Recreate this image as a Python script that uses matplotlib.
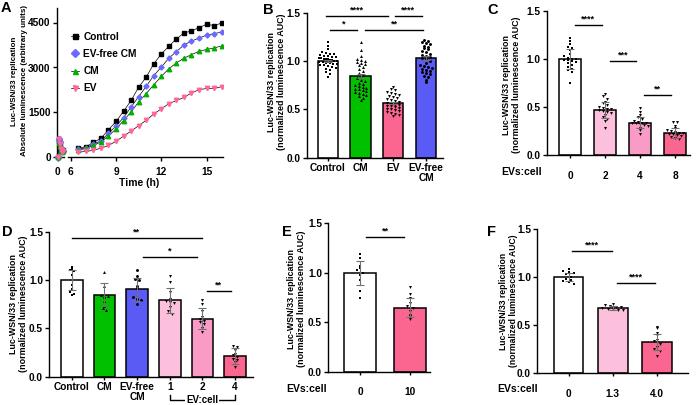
import numpy as np
import matplotlib
matplotlib.use("Agg")
import matplotlib.pyplot as plt
from matplotlib.lines import Line2D
import matplotlib.transforms as mtransforms

plt.rcParams['font.family'] = ['Liberation Sans', 'DejaVu Sans']
plt.rcParams['font.weight'] = 'bold'
plt.rcParams['axes.labelweight'] = 'bold'
plt.rcParams['axes.linewidth'] = 1.0
plt.rcParams['xtick.major.width'] = 1.0
plt.rcParams['ytick.major.width'] = 1.0
plt.rcParams['xtick.major.size'] = 3
plt.rcParams['ytick.major.size'] = 3
plt.rcParams['xtick.labelsize'] = 7.3
plt.rcParams['ytick.labelsize'] = 7.3

W, H = 698, 405

# ---- panel A: time course (absolute luminescence) ----
time_early = [0.0, 0.08, 0.17, 0.25, 0.33, 0.42]
time_main = [6.5, 7.0, 7.5, 8.0, 8.5, 9.0, 9.5, 10.0, 10.5, 11.0,
             11.5, 12.0, 12.5, 13.0, 13.5, 14.0, 14.5, 15.0, 15.5, 16.0]
control_early = [0, 550, 420, 260, 220, 260]
evfree_early = [0, 600, 500, 300, 200, 230]
cm_early = [0, 480, 380, 230, 180, 220]
ev_early = [0, 620, 450, 280, 170, 200]
control_lum = [300, 360, 500, 640, 920, 1200, 1540, 1900, 2340, 2680,
               3120, 3450, 3710, 3950, 4150, 4220, 4330, 4440, 4400, 4480]
evfree_lum = [270, 330, 440, 560, 800, 1050, 1330, 1680, 2030, 2370,
              2730, 3010, 3310, 3530, 3750, 3880, 3980, 4080, 4130, 4180]
cm_lum = [250, 300, 400, 520, 720, 950, 1230, 1520, 1850, 2130,
          2420, 2700, 2960, 3150, 3310, 3430, 3540, 3600, 3650, 3720]
ev_lum = [180, 200, 240, 310, 400, 540, 710, 880, 1060, 1240,
          1450, 1620, 1790, 1900, 2000, 2150, 2260, 2300, 2300, 2360]

# ---- panel B ----
b_labels = ['Control', 'CM', 'EV', 'EV-free\nCM']
b_means = [1.0, 0.845, 0.565, 1.035]
b_sem = [0.012, 0.025, 0.012, 0.02]
b_control = [1.20, 1.16, 1.12, 1.09, 1.08, 1.07, 1.07, 1.06, 1.05, 1.05, 1.04, 1.04,
             1.03, 1.03, 1.02, 1.02, 1.02, 1.01, 1.01, 1.00, 1.00, 0.99, 0.99, 0.98,
             0.98, 0.97, 0.97, 0.96, 0.96, 0.95, 0.94, 0.93, 0.92, 0.91, 0.89, 0.87, 0.83]
b_cm = [1.20, 1.11, 1.05, 1.02, 1.01, 1.00, 0.99, 0.98, 0.97, 0.96, 0.94, 0.92,
        0.90, 0.88, 0.86, 0.84, 0.82, 0.80, 0.79, 0.77, 0.76, 0.75, 0.74, 0.73,
        0.72, 0.71, 0.71, 0.70, 0.69, 0.68, 0.67, 0.66, 0.65, 0.64, 0.62, 0.60]
b_ev = [0.73, 0.71, 0.70, 0.68, 0.67, 0.66, 0.65, 0.64, 0.63, 0.62, 0.61, 0.60,
        0.59, 0.58, 0.57, 0.56, 0.55, 0.55, 0.54, 0.53, 0.52, 0.51, 0.50, 0.50,
        0.49, 0.48, 0.47, 0.46, 0.45, 0.44, 0.43]
b_evfree = [1.22, 1.21, 1.20, 1.19, 1.18, 1.16, 1.15, 1.13, 1.12, 1.10, 1.09, 1.07,
            1.06, 1.05, 1.04, 1.03, 1.02, 1.00, 0.98, 0.96, 0.95, 0.94, 0.93, 0.92,
            0.91, 0.90, 0.89, 0.88, 0.87, 0.85, 0.83, 0.80, 0.78]

# ---- panel C ----
c_labels = ['0', '2', '4', '8']
c_means = [1.0, 0.47, 0.34, 0.23]
c_sd = [0.1, 0.085, 0.06, 0.05]
c_0 = [1.22, 1.19, 1.15, 1.12, 1.11, 1.09, 1.05, 1.03, 1.01, 1.00, 1.00, 0.99,
       0.99, 0.98, 0.97, 0.96, 0.94, 0.92, 0.90, 0.89, 0.86, 0.75]
c_2 = [0.64, 0.61, 0.58, 0.55, 0.54, 0.52, 0.50, 0.49, 0.48, 0.48, 0.47, 0.46,
       0.45, 0.44, 0.42, 0.40, 0.38, 0.36, 0.28]
c_4 = [0.49, 0.45, 0.42, 0.40, 0.38, 0.36, 0.35, 0.34, 0.34, 0.33, 0.33, 0.32,
       0.31, 0.30, 0.28, 0.26, 0.22]
c_8 = [0.35, 0.35, 0.30, 0.28, 0.26, 0.25, 0.24, 0.23, 0.23, 0.22, 0.22, 0.21,
       0.20, 0.19, 0.18, 0.17]

# ---- panel D ----
d_labels = ['Control', 'CM', 'EV-free\nCM', '1', '2', '4']
d_means = [1.0, 0.85, 0.905, 0.79, 0.60, 0.215]
d_sd = [0.1, 0.12, 0.12, 0.13, 0.11, 0.08]
d_control = [1.14, 1.11, 1.10, 1.09, 1.05, 0.95, 0.91, 0.88, 0.86, 0.85]
d_cm = [1.08, 0.94, 0.85, 0.84, 0.83, 0.82, 0.78, 0.73, 0.71, 0.69]
d_evfree = [1.10, 1.04, 1.01, 1.00, 0.94, 0.92, 0.82, 0.80, 0.79, 0.75]
d_ev1 = [1.04, 0.98, 0.88, 0.80, 0.78, 0.77, 0.76, 0.72, 0.68, 0.65]
d_ev2 = [0.79, 0.75, 0.68, 0.62, 0.60, 0.58, 0.57, 0.55, 0.50, 0.46]
d_ev4 = [0.32, 0.31, 0.28, 0.24, 0.22, 0.20, 0.18, 0.17, 0.15, 0.10]

# ---- panel E ----
e_labels = ['0', '10']
e_means = [1.0, 0.65]
e_sd = [0.12, 0.1]
e_0 = [1.19, 1.15, 1.07, 1.05, 1.03, 1.00, 0.98, 0.93, 0.82, 0.75]
e_10 = [0.86, 0.79, 0.75, 0.70, 0.67, 0.65, 0.62, 0.58, 0.56, 0.53]

# ---- panel F ----
f_labels = ['0', '1.3', '4.0']
f_means = [1.0, 0.68, 0.325]
f_sd = [0.04, 0.02, 0.085]
f_0 = [1.08, 1.06, 1.05, 1.04, 1.03, 1.00, 0.98, 0.97, 0.96, 0.95, 0.93]
f_13 = [0.72, 0.71, 0.70, 0.69, 0.69, 0.68, 0.67, 0.67, 0.66, 0.66]
f_40 = [0.48, 0.47, 0.42, 0.40, 0.35, 0.33, 0.30, 0.27, 0.25, 0.23, 0.18]

GREEN = '#00C000'
BLUE = '#5A5AF5'
PINK = '#FA6690'
PINK_L = '#FDC0DC'
PINK_M = '#F99BC5'
YLAB1 = 'Luc-WSN/33 replication'
YLAB2 = '(normalized luminescence AUC)'

fig = plt.figure(figsize=(W / 100, H / 100), dpi=100)


def px_axes(left, right, bottom, top):
    return fig.add_axes([left / W, 1 - bottom / H, (right - left) / W, (bottom - top) / H])


def fig_text(x, y, s, **kw):
    fig.text(x / W, 1 - y / H, s, **kw)


def ylabel2(x1, x2, y, line1, line2, size=6.4):
    # two-line rotated axis title, one text per line
    fig_text(x1, y, line1, rotation=90, ha='center', va='center', fontsize=size)
    fig_text(x2, y, line2, rotation=90, ha='center', va='center', fontsize=size)


def spread(vals, width, step=0.035):
    vals = np.asarray(vals, dtype=float)
    offs = np.zeros(len(vals))
    bins = np.round(vals / step).astype(int)
    for b in np.unique(bins):
        idx = np.where(bins == b)[0]
        if len(idx) > 1:
            w = min(width, 0.12 * (len(idx) - 1))
            offs[idx] = np.linspace(-w / 2, w / 2, len(idx))
    return offs


def bar_panel(ax, means, errs, points, colors, markers, width, xlim, labels, pad=2):
    x = np.arange(len(means))
    ax.bar(x, means, width=width, color=colors, edgecolor='black', linewidth=1.1, zorder=1)
    for i, (vals, m) in enumerate(zip(points, markers)):
        offs = spread(vals, width * 0.85)
        ax.scatter(x[i] + offs, vals, marker=m, s=4.5, color='black', linewidths=0, zorder=3)
    ax.errorbar(x, means, yerr=errs, fmt='none', ecolor='#707070', elinewidth=0.8,
                capsize=3, capthick=0.8, zorder=4)
    ax.set_xlim(*xlim)
    ax.set_ylim(0, 1.5)
    ax.set_yticks([0, 0.5, 1.0, 1.5])
    ax.set_yticklabels(['0.0', '0.5', '1.0', '1.5'])
    ax.tick_params(axis='y', pad=1.5)
    ax.set_xticks(x)
    ax.set_xticklabels(labels, linespacing=1.0)
    ax.tick_params(axis='x', length=2, pad=pad)
    for s in ['top', 'right']:
        ax.spines[s].set_visible(False)


def sig(ax, x1, x2, y, text):
    ax.plot([x1, x2], [y, y], color='black', lw=1, clip_on=False, zorder=5)
    ax.annotate(text, ((x1 + x2) / 2, y), xytext=(0, 1), textcoords='offset points',
                ha='center', va='bottom', fontsize=6.5, annotation_clip=False)


# ---------------- A ----------------
axA0 = px_axes(57, 64, 157.5, 7.5)
axA = px_axes(68, 223, 157.5, 7.5)
series = [(control_early, control_lum, 's', 'black', 'Control'),
          (evfree_early, evfree_lum, 'D', '#6A6AFF', 'EV-free CM'),
          (cm_early, cm_lum, '^', '#00B000', 'CM'),
          (ev_early, ev_lum, 'v', '#FF6699', 'EV')]
handles = []
for early, main, mk, col, lab in series:
    axA0.plot(time_early, early, color='black', lw=0.5, zorder=2)
    axA0.plot(time_early, early, ls='none', marker=mk, ms=3.2, color=col, zorder=3, clip_on=False)
    axA.plot(time_main, main, color='black', lw=0.5, zorder=2)
    axA.plot(time_main, main, ls='none', marker=mk, ms=3.2 if mk != 'D' else 2.6, color=col, zorder=3)
    handles.append(Line2D([0], [0], color='black', lw=0.5, marker=mk, ms=3.6, mfc=col, mec=col, label=lab))
for a in (axA0, axA):
    a.set_ylim(0, 5000)
    a.spines['top'].set_visible(False)
    a.spines['right'].set_visible(False)
axA0.set_xlim(-0.05, 0.5)
axA0.set_xticks([0])
axA0.set_yticks([0, 1500, 3000, 4500])
axA0.tick_params(axis='y', pad=1.5)
axA.set_xlim(5.82, 16.09)
axA.set_xticks([6, 9, 12, 15])
axA.spines['left'].set_visible(False)
axA.set_yticks([])
axA.legend(handles=handles, loc='upper left', bbox_to_anchor=(-0.02, 0.88), frameon=False,
           fontsize=7.3, handlelength=0.8, handletextpad=0.4, labelspacing=0.72,
           borderaxespad=0.2)
fig_text(139, 183, 'Time (h)', ha='center', va='center', fontsize=7.5)
ylabel2(15, 25, 81, YLAB1, 'Absolute luminescence (arbitrary units)', size=5.8)

# ---------------- B ----------------
axB = px_axes(307, 443, 157.7, 12.7)
bar_panel(axB, b_means, b_sem, [b_control, b_cm, b_ev, b_evfree],
          ['white', GREEN, PINK, BLUE], ['s', '^', 'v', 'o'], 0.62,
          (-0.64, 3.52), b_labels)
sig(axB, -0.05, 1.83, 1.47, '****')
sig(axB, 2.05, 2.87, 1.47, '****')
sig(axB, 0.06, 0.88, 1.32, '*')
sig(axB, 1.14, 2.90, 1.32, '**')
ylabel2(272, 282, 82, YLAB1, YLAB2)

# ---------------- C ----------------
axC = px_axes(547, 690, 155.3, 10.7)
bar_panel(axC, c_means, c_sd, [c_0, c_2, c_4, c_8],
          ['white', PINK_L, PINK_M, PINK], ['s', 'v', 'v', 'v'], 0.65,
          (-0.66, 3.43), c_labels, pad=9)
sig(axC, 0.14, 0.91, 1.355, '****')
sig(axC, 1.14, 1.88, 0.976, '***')
sig(axC, 2.12, 2.88, 0.63, '**')
fig_text(542, 172, 'EVs:cell', ha='right', va='center', fontsize=7.5)
ylabel2(506.7, 516.7, 85, YLAB1, YLAB2)

# ---------------- D ----------------
axD = px_axes(49.3, 253, 376.7, 231.7)
bar_panel(axD, d_means, d_sd, [d_control, d_cm, d_evfree, d_ev1, d_ev2, d_ev4],
          ['white', GREEN, BLUE, PINK_L, PINK_M, PINK], ['s', '^', 'o', 'v', 'v', 'v'], 0.66,
          (-0.69, 5.55), d_labels)
sig(axD, 0.0, 3.98, 1.431, '**')
sig(axD, 2.19, 3.82, 1.241, '*')
sig(axD, 4.13, 4.88, 0.89, '**')
trD = mtransforms.blended_transform_factory(axD.transData, axD.transAxes)
axD.plot([3.0, 3.0, 5.0, 5.0], [-0.125, -0.16, -0.16, -0.125], color='black', lw=1,
         transform=trD, clip_on=False)
axD.text(4.0, -0.16, 'EV:cell', transform=trD, ha='center', va='center', fontsize=7,
         bbox=dict(facecolor='white', edgecolor='none', pad=0.6))
ylabel2(13.3, 23.3, 304, YLAB1, YLAB2)

# ---------------- E ----------------
axE = px_axes(328.3, 430, 372, 223.3)
bar_panel(axE, e_means, e_sd, [e_0, e_10], ['white', PINK], ['s', 'v'], 0.65,
          (-0.64, 1.41), e_labels, pad=9)
sig(axE, 0.12, 0.89, 1.362, '**')
fig_text(327, 389, 'EVs:cell', ha='right', va='center', fontsize=7.5)
ylabel2(291.7, 301.7, 299, YLAB1, YLAB2)

# ---------------- F ----------------
axF = px_axes(537.3, 688, 373.3, 228.7)
bar_panel(axF, f_means, f_sd, [f_0, f_13, f_40], ['white', PINK_L, PINK], ['s', 'v', 'v'], 0.67,
          (-0.71, 2.70), f_labels, pad=9)
sig(axF, 0.07, 0.97, 1.27, '****')
sig(axF, 1.09, 1.95, 0.94, '****')
fig_text(538, 389, 'EVs:cell', ha='right', va='center', fontsize=7.5)
ylabel2(503.5, 513, 301, YLAB1, YLAB2, size=6.2)

# panel letters
for letter, x, y in [('A', 1, 1), ('B', 263, 3), ('C', 487, 3),
                     ('D', 2, 225), ('E', 282, 225), ('F', 487, 225)]:
    fig_text(x, y, letter, ha='left', va='top', fontsize=10.5)

fig.savefig('out.png', dpi=100)
